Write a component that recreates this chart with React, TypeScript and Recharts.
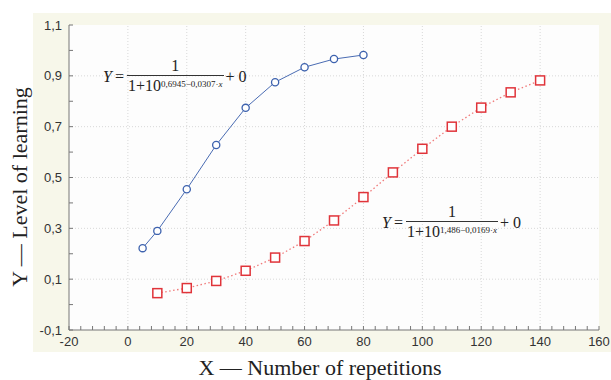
import React from 'react';
import { LineChart, Line, XAxis, YAxis, CartesianGrid, ReferenceLine } from 'recharts';

// observed points
const blueX = [5, 10, 20, 30, 40, 50, 60, 70, 80];
const blueY = [0.222, 0.29, 0.454, 0.628, 0.774, 0.875, 0.934, 0.966, 0.982];

const redX = [10, 20, 30, 40, 50, 60, 70, 80, 90, 100, 110, 120, 130, 140];
const redY = [0.045, 0.065, 0.093, 0.133, 0.185, 0.25, 0.331, 0.423, 0.52, 0.613, 0.7, 0.775, 0.835, 0.882];

const xTicks = [-20, -16, -12, -8, -4, 0, 4, 8, 12, 16, 20, 24, 28, 32, 36, 40, 44, 48, 52, 56, 60, 64, 68, 72, 76, 80, 84, 88, 92, 96, 100, 104, 108, 112, 116, 120, 124, 128, 132, 136, 140, 144, 148, 152, 156, 160];
const yTicks = [-0.1, 0, 0.1, 0.2, 0.3, 0.4, 0.5, 0.6, 0.7, 0.8, 0.9, 1.0, 1.1];
const xGrid = [0, 20, 40, 60, 80, 100, 120, 140];
const yGrid = [0.1, 0.3, 0.5, 0.7, 0.9];

const blueData = blueX.map((x, i) => ({ x, y: blueY[i] }));
const redData = redX.map((x, i) => ({ x, y: redY[i] }));

const fmtX = (v: number) => (v % 20 === 0 ? String(v) : '');
const fmtY = (v: number) => {
  const t = Math.round(v * 10);
  return Math.abs(t) % 2 === 1 ? v.toFixed(1).replace('.', ',') : '';
};

const SquareDot = (props: any) => {
  const { cx, cy, index } = props;
  if (cx == null || cy == null) return null;
  return <rect key={`sq-${index}`} x={cx - 4.5} y={cy - 4.5} width={9} height={9} fill="#fff" stroke="#e0343a" strokeWidth={1.5} />;
};

const tickFont = { fontFamily: '"Liberation Sans", Arial, sans-serif', fontSize: 13, fill: '#333' };
const serif = '"Liberation Serif", "Times New Roman", serif';

const Equation = ({ left, top, a, b }: { left: number; top: number; a: string; b: string }) => (
  <div style={{ position: 'absolute', left, top, fontFamily: serif, fontSize: 16, color: '#222', display: 'flex', alignItems: 'center', whiteSpace: 'nowrap' }}>
    <span style={{ fontStyle: 'italic' }}>Y</span>
    <span style={{ margin: '0 3px' }}>=</span>
    <span style={{ display: 'inline-flex', flexDirection: 'column', alignItems: 'center' }}>
      <span style={{ lineHeight: '18px' }}>1</span>
      <span style={{ borderTop: '1px solid #333', lineHeight: '20px', padding: '0 1px' }}>
        1+10<sup style={{ fontSize: 9, verticalAlign: 'top', position: 'relative', top: -2 }}>{a}−{b}·<i>x</i></sup>
      </span>
    </span>
    <span style={{ marginLeft: 2 }}>+ 0</span>
  </div>
);

const App = () => {
  return (
    <div style={{ position: 'absolute', left: 0, top: 0, width: 611, height: 380, background: '#fff' }}>
      <div style={{ position: 'absolute', left: 33, top: 13, width: 578, height: 339, background: '#f7f7ea' }} />
      <div style={{ position: 'absolute', left: 0, top: 0 }}>
        <LineChart width={611} height={380} margin={{ top: 25, right: 12, left: 33, bottom: 30 }}>
          <CartesianGrid horizontal={false} vertical={false} fill="#fdfdfd" />
          {xGrid.map((v) => (
            <ReferenceLine key={`gx-${v}`} x={v} stroke="#d8d8d8" strokeDasharray="1 2" />
          ))}
          {yGrid.map((v) => (
            <ReferenceLine key={`gy-${v}`} y={v} stroke="#d8d8d8" strokeDasharray="1 2" />
          ))}
          <XAxis
            type="number"
            dataKey="x"
            domain={[-20, 160]}
            ticks={xTicks}
            interval={0}
            tickFormatter={fmtX}
            tickSize={-4}
            tickMargin={11}
            height={20}
            stroke="#777"
            tick={tickFont}
            allowDataOverflow
          />
          <XAxis
            xAxisId="top"
            orientation="top"
            type="number"
            domain={[-20, 160]}
            ticks={xTicks}
            interval={0}
            tickFormatter={() => ''}
            tickSize={-4}
            height={0}
            stroke="#777"
            allowDataOverflow
          />
          <YAxis
            type="number"
            domain={[-0.1, 1.1]}
            ticks={yTicks}
            interval={0}
            tickFormatter={fmtY}
            tickSize={-4}
            tickMargin={11}
            width={36}
            stroke="#777"
            tick={tickFont}
            allowDataOverflow
          />
          <YAxis
            yAxisId="right"
            orientation="right"
            type="number"
            domain={[-0.1, 1.1]}
            ticks={yTicks}
            interval={0}
            tickFormatter={() => ''}
            tickSize={-4}
            width={0}
            stroke="#777"
            allowDataOverflow
          />
          <Line
            data={blueData}
            dataKey="y"
            stroke="#4a6cb3"
            strokeWidth={1}
            dot={{ r: 3.6, fill: '#fff', stroke: '#3d62ae', strokeWidth: 1.3 }}
            isAnimationActive={false}
          />
          <Line
            data={redData}
            dataKey="y"
            stroke="#f07a7a"
            strokeWidth={1.3}
            strokeDasharray="1.5 2.5"
            dot={<SquareDot />}
            isAnimationActive={false}
          />
        </LineChart>
      </div>
      <Equation left={103} top={57} a="0,6945" b="0,0307" />
      <Equation left={382} top={203} a="1,486" b="0,0169" />
      <div style={{ position: 'absolute', left: 0, top: 355, width: 640, textAlign: 'center', fontFamily: serif, fontSize: 22, color: '#222' }}>
        X — Number of repetitions
      </div>
      <div style={{ position: 'absolute', left: 20, top: 187, transform: 'translate(-50%, -50%) rotate(-90deg)', fontFamily: serif, fontSize: 22, color: '#222', whiteSpace: 'nowrap' }}>
        Y — Level of learning
      </div>
    </div>
  );
};

export default App;
